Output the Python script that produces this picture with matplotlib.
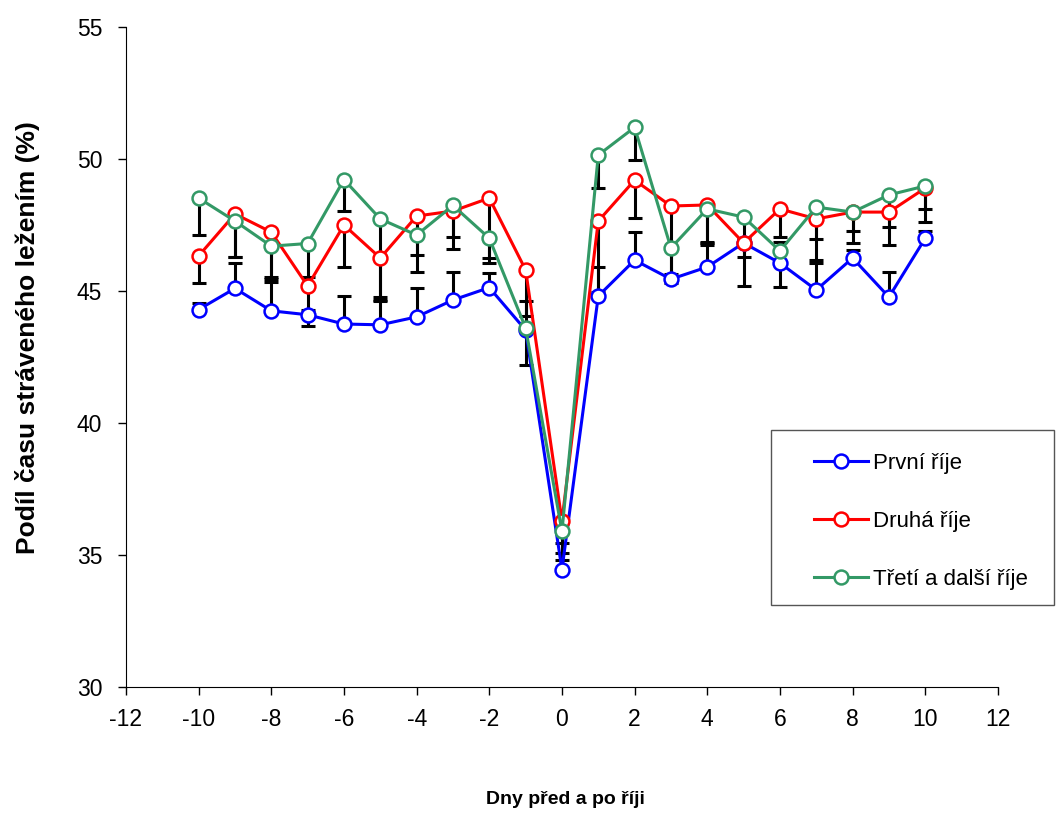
import matplotlib
matplotlib.use("Agg")
import matplotlib.pyplot as plt
from matplotlib.patches import Rectangle
import numpy as np

plt.rcParams['font.family'] = ['Liberation Sans', 'DejaVu Sans']
plt.rcParams['axes.unicode_minus'] = False

days = [-10, -9, -8, -7, -6, -5, -4, -3, -2, -1, 0, 1, 2, 3, 4, 5, 6, 7, 8, 9, 10]

# mean share of time spent lying (%)
prvni = [44.3, 45.1, 44.25, 44.1, 43.75, 43.72, 44.02, 44.66, 45.13, 43.52, 34.45,
         44.81, 46.17, 45.45, 45.91, 46.82, 46.06, 45.04, 46.25, 44.77, 47.0]
druha = [46.33, 47.92, 47.23, 45.19, 47.5, 46.25, 47.84, 48.03, 48.52, 45.8, 36.29,
         47.65, 49.2, 48.22, 48.26, 46.82, 48.11, 47.73, 47.99, 47.99, 48.9]
treti = [48.52, 47.65, 46.7, 46.8, 49.22, 47.73, 47.12, 48.24, 47.0, 43.6, 35.9,
         50.15, 51.2, 46.63, 48.11, 47.8, 46.52, 48.18, 47.99, 48.64, 48.98]

# one-sided error bars (blue upward, red and green downward)
err_prvni = [0.26, 0.95, 1.2, 0.2, 1.06, 0.92, 1.09, 1.06, 0.57, 1.1, 1.0,
             1.1, 1.07, 0.2, 0.95, 0.2, 0.8, 1.02, 0.3, 0.95, 0.27]
err_druha = [1.03, 1.63, 1.89, 1.52, 1.59, 1.59, 2.12, 1.44, 2.46, 1.75, 1.2,
             2.7, 1.43, 2.9, 1.52, 1.63, 1.06, 1.56, 1.17, 1.25, 1.29]
err_treti = [1.4, 1.35, 1.17, 1.27, 1.19, 2.96, 0.76, 1.19, 0.75, 1.4, 1.1,
             1.25, 1.25, 1.2, 1.3, 1.5, 1.37, 1.21, 0.72, 1.22, 0.88]

zeros = [0] * len(days)

fig = plt.figure(figsize=(10.56, 8.14), dpi=100)
ax = fig.add_axes([0.1193, 0.156, 0.8257, 0.8108])

ebkw = dict(fmt='none', ecolor='black', elinewidth=2.2, capsize=5, capthick=2.2, zorder=1)
ax.errorbar(days, prvni, yerr=[zeros, err_prvni], **ebkw)
ax.errorbar(days, druha, yerr=[err_druha, zeros], **ebkw)
ax.errorbar(days, treti, yerr=[err_treti, zeros], **ebkw)

mk = dict(marker='o', markersize=10, markerfacecolor='white', markeredgewidth=1.8, linewidth=2.2)
ax.plot(days, prvni, color='#0000ff', label='První říje', zorder=3, **mk)
ax.plot(days, druha, color='#ff0000', label='Druhá říje', zorder=4, **mk)
ax.plot(days, treti, color='#339966', label='Třetí a další říje', zorder=5, **mk)

ax.set_xlim(-12, 12)
ax.set_ylim(30, 55)
ax.set_xticks(np.arange(-12, 13, 2))
ax.set_yticks(np.arange(30, 56, 5))
ax.spines['top'].set_visible(False)
ax.spines['right'].set_visible(False)
ax.tick_params(axis='both', direction='out', length=6, width=1, labelsize=16.5, pad=9)
ax.tick_params(axis='y', pad=11)

fig.text(0.026, 0.585, 'Podíl času stráveného ležením (%)', rotation=90, va='center', ha='center',
         fontsize=19, fontweight='bold')
fig.text(0.535, 0.007, 'Dny před a po říji', ha='center', va='bottom', fontsize=14, fontweight='bold')

# legend box drawn separately so the padding can match
fig.patches.append(Rectangle((0.730, 0.257), 0.268, 0.215, transform=fig.transFigure,
                             facecolor='white', edgecolor='#555555', linewidth=1, zorder=10))
leg = fig.legend(loc='upper left', bbox_to_anchor=(0.771, 0.4435), borderaxespad=0,
                 borderpad=0, fontsize=16, labelspacing=1.66, handlelength=2.4,
                 handletextpad=0.25, frameon=False)
leg.set_zorder(11)

fig.savefig('out.png', dpi=100)
